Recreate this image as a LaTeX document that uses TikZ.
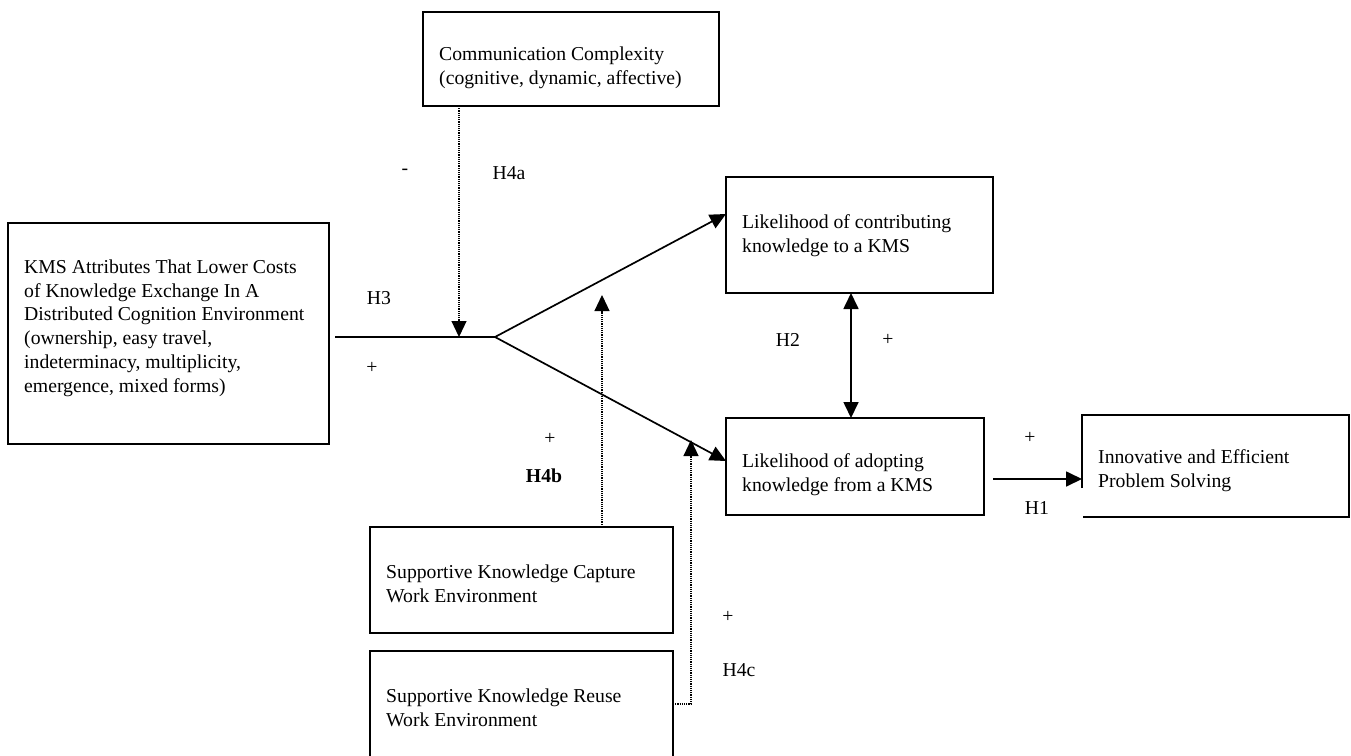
\documentclass[tikz,border=0pt]{standalone}
\usepackage{fontspec}
\setmainfont{Liberation Serif}
\usetikzlibrary{arrows.meta}
\begin{document}
\begin{tikzpicture}[x=1pt,y=-1pt,
  box/.style={draw, line width=1.4pt, inner sep=0pt, outer sep=0pt, anchor=north west},
  txt/.style={anchor=west, align=left, inner sep=0pt, font=\fontsize{19.7}{23.8}\selectfont},
  lbl/.style={inner sep=0pt, font=\fontsize{19.7}{23.8}\selectfont},
  main/.style={line width=1.7pt},
  dotline/.style={line width=1.2pt, dash pattern=on 1.2pt off 1pt},
  tip/.style={-{Triangle[length=16pt,width=15pt]}},
  bitip/.style={{Triangle[length=16pt,width=15pt]}-{Triangle[length=16pt,width=15pt]}}
]
\clip (0,0) rectangle (1351,755);
\fill[white] (0,0) rectangle (1351,755);

% boxes
\node[box, minimum width=296pt, minimum height=94pt] (comm) at (423,12) {};
\node[box, minimum width=321pt, minimum height=221pt] (kms) at (8,223) {};
\node[box, minimum width=267pt, minimum height=116pt] (contrib) at (726,177) {};
\node[box, minimum width=258pt, minimum height=97pt] (adopt) at (726,418) {};
\node[box, draw=none, minimum width=267pt, minimum height=102pt] (innov) at (1082,415) {};
\draw[line width=1.4pt] (1082,488) -- (innov.north west) -- (innov.north east) -- (innov.south east) -- ([xshift=1pt]innov.south west);
\node[box, minimum width=303pt, minimum height=106pt] (capture) at (370,527) {};
\node[box, minimum width=303pt, minimum height=140pt] (reuse) at (370,651) {};

% texts
\node[txt] (commT) at (439,68) {Communication Complexity\\(cognitive, dynamic, affective)};
\node[txt] (kmsT) at (24,328) {KMS Attributes That Lower Costs\\of Knowledge Exchange In A\\Distributed Cognition Environment\\(ownership, easy travel,\\indeterminacy, multiplicity,\\emergence, mixed forms)};
\node[txt] (contribT) at (742,235.5) {Likelihood of contributing\\knowledge to a KMS};
\node[txt] (adoptT) at (742,474.5) {Likelihood of adopting\\knowledge from a KMS};
\node[txt] (innovT) at (1098,470.5) {Innovative and Efficient\\Problem Solving};
\node[txt] (captureT) at (386,583.5) {Supportive Knowledge Capture\\Work Environment};
\node[txt] (reuseT) at (386,707.5) {Supportive Knowledge Reuse\\Work Environment};

% connector points
\coordinate (S) at (335,337);
\coordinate (J) at (495,337);
\coordinate (cT) at (726,214);
\coordinate (aT) at (726,461);
\coordinate (h2) at (851,0);
\coordinate (h1s) at (993,479);
\coordinate (h4a) at (459,337);
\coordinate (h4bT) at (602,295);
\coordinate (h4cC) at (691,704);
\coordinate (h4cT) at (691,440);

% main connectors
\draw[main] (S) -- (J);
\draw[main, tip] (J) -- (cT);
\draw[main, tip] (J) -- (aT);
\draw[main, bitip] (contrib.south -| h2) -- (adopt.north -| h2);
\draw[main, tip] (h1s) -- (innov.west |- h1s);

% moderators
\draw[dotline, tip] (comm.south -| h4a) -- (h4a);
\draw[dotline, tip] (capture.north -| h4bT) -- (h4bT);
\draw[dotline, tip] (reuse.east |- h4cC) -- (h4cC) -- (h4cT);

% labels
\node[lbl] (lMinus) at (405,172) {-};
\node[lbl] (lH4a) at (509,173) {H4a};
\node[lbl] (lH3) at (379,298) {H3};
\node[lbl] (lP1) at (372,368) {+};
\node[lbl] (lP2) at (550,439) {+};
\node[lbl, font=\fontsize{19.7}{23.8}\selectfont\bfseries] (lH4b) at (544,476) {H4b};
\node[lbl] (lH2) at (788,340) {H2};
\node[lbl] (lP3) at (888,340) {+};
\node[lbl] (lP4) at (1030,438) {+};
\node[lbl] (lH1) at (1037,508) {H1};
\node[lbl] (lP5) at (728,617) {+};
\node[lbl] (lH4c) at (739,670) {H4c};
\end{tikzpicture}
\end{document}
